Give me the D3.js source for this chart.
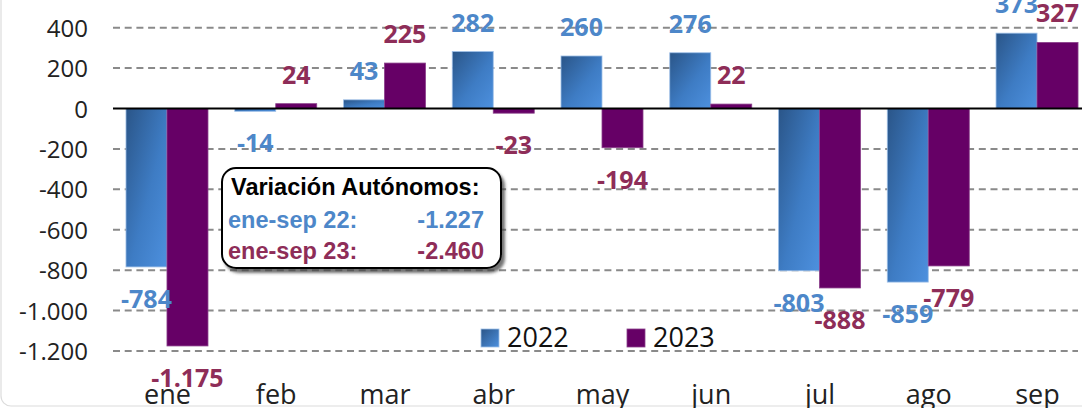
<!DOCTYPE html>
<html>
<head>
<meta charset="utf-8">
<script src="https://cdn.jsdelivr.net/npm/d3@7"></script>
<style>
  html, body { margin: 0; padding: 0; background: #fff; overflow: hidden; }
  svg { display: block; }
</style>
</head>
<body>
<svg id="chart" width="1082" height="408"></svg>
<script>
// ---- data ----
const categories = ["ene", "feb", "mar", "abr", "may", "jun", "jul", "ago", "sep"];
const seriesNames = ["2022", "2023"];
const values2022 = [-784, -14, 43, 282, 260, 276, -803, -859, 373];
const values2023 = [-1175, 24, 225, -23, -194, 22, -888, -779, 327];
const yTicks = [400, 200, 0, -200, -400, -600, -800, -1000, -1200];
const boxTitle = "Variación Autónomos:";
const boxRows = [
  { label: "ene-sep 22:", value: -1227 },
  { label: "ene-sep 23:", value: -2460 }
];

// ---- styles ----
const labelColors = { "2022": "#4d87c9", "2023": "#8e2d58" };
const barPurple = "#660066";

const locale = d3.formatLocale({ decimal: ",", thousands: ".", grouping: [3], currency: ["", "€"], minus: "-" });
const fmt = locale.format(",d");

const svg = d3.select("#chart");
const W = 1082, H = 408;

const defs = svg.append("defs");
const grad = defs.append("linearGradient").attr("id", "blueGrad")
  .attr("x1", 0).attr("y1", 0).attr("x2", 1).attr("y2", 1);
grad.append("stop").attr("offset", "0%").attr("stop-color", "#2a5588");
grad.append("stop").attr("offset", "55%").attr("stop-color", "#3e7cc4");
grad.append("stop").attr("offset", "100%").attr("stop-color", "#4d90de");
const legGrad = defs.append("linearGradient").attr("id", "blueGradLeg")
  .attr("x1", 0).attr("y1", 0).attr("x2", 1).attr("y2", 1);
legGrad.append("stop").attr("offset", "0%").attr("stop-color", "#2a5588");
legGrad.append("stop").attr("offset", "100%").attr("stop-color", "#4d90de");
const shadow = defs.append("filter").attr("id", "shadow")
  .attr("x", "-10%").attr("y", "-10%").attr("width", "130%").attr("height", "140%");
shadow.append("feDropShadow").attr("dx", 3).attr("dy", 4).attr("stdDeviation", 1.8)
  .attr("flood-color", "#444").attr("flood-opacity", 0.75);

// outer chart border (faint)
svg.append("rect").attr("x", 1).attr("y", -30).attr("width", W + 40).attr("height", H + 28)
  .attr("rx", 10).attr("fill", "none").attr("stroke", "#dcdcdc").attr("stroke-width", 1.2);

// ---- scales ----
const x = d3.scalePoint().domain(categories).range([112.6, 1091.4]).padding(0.5);
const xs = d3.scaleBand().domain(seriesNames).range([-41, 41]).padding(0);
const y = d3.scaleLinear().domain([-1200, 400]).range([351, 27.7]);

// gridlines
const gridG = svg.append("g");
gridG.selectAll("line.grid").data(yTicks.filter(d => d !== 0)).join("line")
  .attr("x1", 113).attr("x2", 1078)
  .attr("y1", d => y(d)).attr("y2", d => y(d))
  .attr("stroke", "#8a8a8a").attr("stroke-width", 2).attr("stroke-dasharray", "7,4.7");

// y axis labels
const yAxis = d3.axisLeft(y).tickValues(yTicks).tickFormat(fmt).tickSize(0).tickPadding(0);
const yG = svg.append("g").attr("transform", "translate(88,0)").call(yAxis);
yG.select(".domain").remove();
yG.selectAll("text").attr("font-family", "'Open Sans', sans-serif").attr("font-size", 24)
  .attr("fill", "#222").attr("dy", "0.36em");

// bars
const data = [];
categories.forEach((c, i) => {
  data.push({ cat: c, s: "2022", v: values2022[i] });
  data.push({ cat: c, s: "2023", v: values2023[i] });
});

svg.append("g").selectAll("rect").data(data).join("rect")
  .attr("x", d => x(d.cat) + xs(d.s))
  .attr("width", xs.bandwidth())
  .attr("y", d => Math.min(y(d.v), y(0)))
  .attr("height", d => Math.abs(y(d.v) - y(0)))
  .attr("fill", d => d.s === "2022" ? "url(#blueGrad)" : barPurple)
  .attr("stroke", d => d.s === "2022" ? "#9fc0e8" : "#8a3f8a")
  .attr("stroke-width", 0.8);

// zero line
svg.append("line").attr("x1", 113).attr("x2", W).attr("y1", y(0)).attr("y2", y(0))
  .attr("stroke", "#000").attr("stroke-width", 2);

// value labels
svg.append("g").selectAll("text").data(data).join("text")
  .attr("x", d => x(d.cat) + xs(d.s) + xs.bandwidth() / 2)
  .attr("y", d => d.v >= 0 ? y(d.v) - 29 : y(d.v) + 32)
  .attr("dy", "0.36em")
  .attr("text-anchor", "middle")
  .attr("font-family", "'Open Sans', sans-serif").attr("font-weight", 700).attr("font-size", 25)
  .attr("fill", d => labelColors[d.s])
  .text(d => fmt(d.v));

// x axis labels
const xAxis = d3.axisBottom(x).tickSize(0).tickPadding(0);
const xG = svg.append("g").attr("transform", "translate(0,404)").call(xAxis);
xG.select(".domain").remove();
xG.selectAll("text").attr("font-family", "'Open Sans', sans-serif").attr("font-size", 27)
  .attr("fill", "#222").attr("dy", 0).attr("y", 0);

// legend
const legend = svg.append("g");
const legendX = [481, 627];
seriesNames.forEach((s, i) => {
  legend.append("rect").attr("x", legendX[i]).attr("y", 329).attr("width", 18).attr("height", 18)
    .attr("fill", s === "2022" ? "url(#blueGradLeg)" : barPurple)
    .attr("stroke", s === "2022" ? "#9fc0e8" : "#8a3f8a").attr("stroke-width", 0.8);
  legend.append("text").attr("x", legendX[i] + 26).attr("y", 347)
    .attr("font-family", "'Open Sans', sans-serif").attr("font-size", 27).attr("fill", "#111")
    .text(s);
});

// annotation box
const box = svg.append("g");
box.append("rect").attr("x", 222).attr("y", 168).attr("width", 279).attr("height", 100)
  .attr("rx", 14).attr("fill", "#fff").attr("stroke", "#000").attr("stroke-width", 2)
  .attr("filter", "url(#shadow)");
box.append("text").attr("x", 231).attr("y", 195)
  .attr("font-family", "'Liberation Sans', Arial, sans-serif").attr("font-weight", 700)
  .attr("font-size", 23.5).attr("fill", "#000").text(boxTitle);
const rowBase = [228, 259];
boxRows.forEach((r, i) => {
  const col = labelColors[seriesNames[i]];
  box.append("text").attr("x", 228).attr("y", rowBase[i])
    .attr("font-family", "'Liberation Sans', Arial, sans-serif").attr("font-weight", 700)
    .attr("font-size", 23.5).attr("fill", col).text(r.label);
  box.append("text").attr("x", 484).attr("y", rowBase[i]).attr("text-anchor", "end")
    .attr("font-family", "'Liberation Sans', Arial, sans-serif").attr("font-weight", 700)
    .attr("font-size", 23.5).attr("fill", col).text(fmt(r.value));
});
</script>
</body>
</html>
